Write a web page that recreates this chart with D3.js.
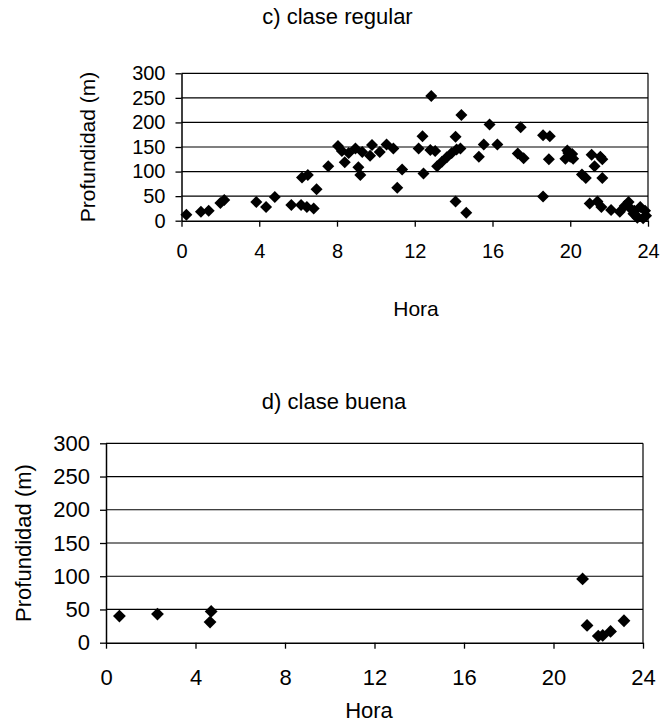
<!DOCTYPE html>
<html>
<head>
<meta charset="utf-8">
<script src="https://cdn.jsdelivr.net/npm/d3@7"></script>
<style>
  body { margin: 0; background: #fff; }
  svg { display: block; font-family: "Liberation Sans", Arial, sans-serif; }
</style>
</head>
<body>
<svg id="chart" width="660" height="724"></svg>
<script>
// ---- Data (hour of day, depth in m) ----
const hourTicks = [0, 4, 8, 12, 16, 20, 24];
const depthTicks = [0, 50, 100, 150, 200, 250, 300];

// c) clase regular
const regularPoints = [
  [0.25, 12], [1.0, 18], [1.4, 20], [2.0, 36], [2.2, 42],
  [3.85, 38], [4.35, 28], [4.8, 48], [5.65, 32], [6.15, 32],
  [6.45, 28], [6.8, 25], [6.2, 88], [6.5, 93], [6.95, 64],
  [7.55, 111], [8.05, 152], [8.25, 142], [8.4, 119], [8.6, 138],
  [8.95, 147], [9.1, 109], [9.2, 93], [9.3, 140], [9.7, 132],
  [9.8, 154], [10.2, 140], [10.55, 155], [10.9, 147], [11.1, 67],
  [11.35, 104], [12.2, 147], [12.4, 172], [12.45, 96], [12.85, 254],
  [12.8, 144], [13.05, 142], [13.15, 111], [13.4, 120], [13.65, 129],
  [13.9, 138], [14.15, 145], [14.35, 147], [14.1, 171], [14.4, 215],
  [14.1, 39], [14.65, 16], [15.3, 130], [15.55, 155], [15.85, 196],
  [16.25, 155], [17.3, 137], [17.45, 190], [17.6, 127], [18.6, 174],
  [18.95, 172], [18.6, 49], [18.9, 125], [19.75, 126], [19.9, 138],
  [20.0, 130], [20.1, 136], [20.15, 126], [19.85, 143], [20.6, 94],
  [20.8, 87], [21.1, 134], [21.25, 111], [21.55, 130], [21.65, 125],
  [21.65, 87], [21.0, 35], [21.4, 39], [21.6, 28], [22.1, 22],
  [22.55, 18], [22.8, 30], [23.0, 38], [23.1, 25], [23.25, 14],
  [23.3, 20], [23.45, 6], [23.6, 28], [23.75, 5], [23.85, 20],
  [23.4, 10], [23.9, 10]
];

// d) clase buena
const buenaPoints = [
  [0.6, 40], [2.3, 43], [4.7, 47], [4.65, 31], [21.3, 96],
  [21.5, 26], [22.0, 10], [22.2, 11], [22.55, 17], [23.15, 33]
];

const svg = d3.select("#chart");

function drawPanel(cfg) {
  const g = svg.append("g");

  const x = d3.scaleLinear().domain([0, 24]).range([cfg.left, cfg.right]);
  const y = d3.scaleLinear().domain([0, 300]).range([cfg.bottom, cfg.top]);

  // gridlines
  g.selectAll("line.grid")
    .data(depthTicks.filter(d => d > 0))
    .join("line")
    .attr("class", "grid")
    .attr("x1", cfg.left).attr("x2", cfg.right)
    .attr("y1", d => y(d)).attr("y2", d => y(d))
    .attr("stroke", "#000").attr("stroke-width", 1.2);

  // right border
  g.append("line")
    .attr("x1", cfg.right).attr("x2", cfg.right)
    .attr("y1", cfg.top).attr("y2", cfg.bottom)
    .attr("stroke", "#000").attr("stroke-width", 1.2);

  // axes
  const yAxis = g.append("g")
    .attr("transform", `translate(${cfg.left},0)`)
    .call(d3.axisLeft(y).tickValues(depthTicks).tickSize(6).tickSizeOuter(0).tickPadding(cfg.yPad));
  const xAxis = g.append("g")
    .attr("transform", `translate(0,${cfg.bottom})`)
    .call(d3.axisBottom(x).tickValues(hourTicks).tickSize(6).tickSizeOuter(0).tickPadding(cfg.xPad));

  [yAxis, xAxis].forEach(a => {
    a.select(".domain").attr("stroke", "#000").attr("stroke-width", 1.5);
    a.selectAll(".tick line").attr("stroke", "#000").attr("stroke-width", 1.3);
    a.selectAll("text")
      .attr("fill", "#000")
      .style("font-family", "'Liberation Sans', Arial, sans-serif")
      .style("font-size", cfg.tickFont + "px");
  });

  // points
  g.selectAll("path.pt")
    .data(cfg.points)
    .join("path")
    .attr("class", "pt")
    .attr("d", d3.symbol(d3.symbolSquare, cfg.markSize))
    .attr("transform", d => `translate(${x(d[0])},${y(d[1])}) rotate(45)`)
    .attr("fill", "#000");

  // title
  g.append("text")
    .attr("x", cfg.titleX).attr("y", cfg.titleY)
    .attr("text-anchor", "middle")
    .style("font-size", cfg.titleFont + "px")
    .text(cfg.title);

  // x label
  g.append("text")
    .attr("x", cfg.xLabelX).attr("y", cfg.xLabelY)
    .attr("text-anchor", "middle")
    .style("font-size", cfg.labelFont + "px")
    .text("Hora");

  // y label
  g.append("text")
    .attr("transform", `translate(${cfg.yLabelX},${(cfg.top + cfg.bottom) / 2}) rotate(-90)`)
    .attr("text-anchor", "middle")
    .attr("dy", "0.35em")
    .style("font-size", cfg.labelFont + "px")
    .text("Profundidad (m)");
}

drawPanel({
  points: regularPoints,
  title: "c) clase regular",
  left: 181.5, right: 648, top: 73.3, bottom: 220.7,
  yPad: 10, xPad: 17.5,
  tickFont: 20, labelFont: 21, titleFont: 22, markSize: 72,
  titleX: 337.5, titleY: 24,
  xLabelX: 416, xLabelY: 316,
  yLabelX: 88
});

drawPanel({
  points: buenaPoints,
  title: "d) clase buena",
  left: 106, right: 643, top: 443.3, bottom: 642.7,
  yPad: 10, xPad: 20.5,
  tickFont: 22, labelFont: 22, titleFont: 22, markSize: 82,
  titleX: 334, titleY: 409,
  xLabelX: 369, xLabelY: 718,
  yLabelX: 23
});
</script>
</body>
</html>
